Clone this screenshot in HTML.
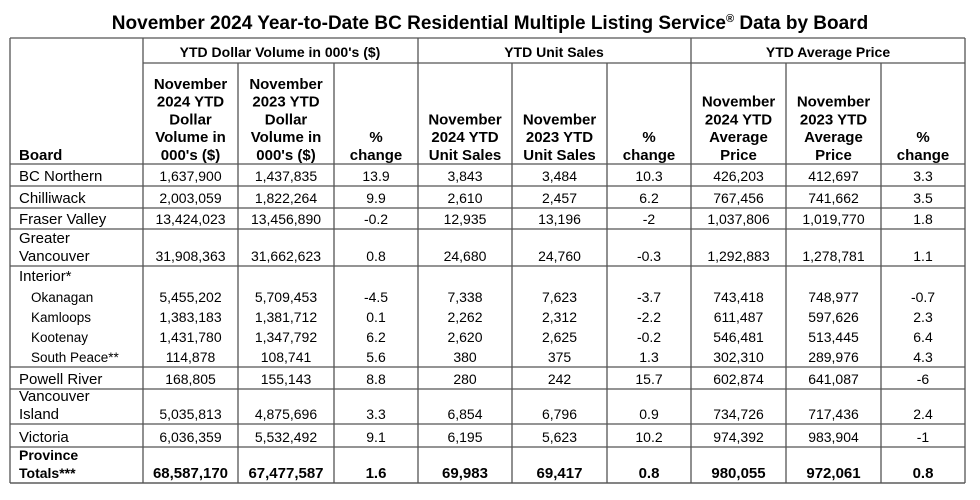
<!DOCTYPE html>
<html><head><meta charset="utf-8"><style>
body{margin:0;background:#fff;width:980px;height:500px;overflow:hidden}
svg{display:block;font-family:"Liberation Sans",Arial,sans-serif}
</style></head><body>
<svg id="t" width="980" height="500">
<text x="490" y="29" text-anchor="middle" font-weight="bold" font-size="19">November 2024 Year-to-Date BC Residential Multiple Listing Service<tspan font-size="11" dy="-7">®</tspan><tspan dy="7"> Data by Board</tspan></text>
</svg>
<script>
const boards=["BC Northern","Chilliwack","Fraser Valley","Greater|Vancouver","Interior*","Okanagan","Kamloops","Kootenay","South Peace**","Powell River","Vancouver|Island","Victoria","Province|Totals***"];
const vol2024=["1,637,900","2,003,059","13,424,023","31,908,363","","5,455,202","1,383,183","1,431,780","114,878","168,805","5,035,813","6,036,359","68,587,170"];
const vol2023=["1,437,835","1,822,264","13,456,890","31,662,623","","5,709,453","1,381,712","1,347,792","108,741","155,143","4,875,696","5,532,492","67,477,587"];
const volChg=["13.9","9.9","-0.2","0.8","","-4.5","0.1","6.2","5.6","8.8","3.3","9.1","1.6"];
const units2024=["3,843","2,610","12,935","24,680","","7,338","2,262","2,620","380","280","6,854","6,195","69,983"];
const units2023=["3,484","2,457","13,196","24,760","","7,623","2,312","2,625","375","242","6,796","5,623","69,417"];
const unitsChg=["10.3","6.2","-2","-0.3","","-3.7","-2.2","-0.2","1.3","15.7","0.9","10.2","0.8"];
const price2024=["426,203","767,456","1,037,806","1,292,883","","743,418","611,487","546,481","302,310","602,874","734,726","974,392","980,055"];
const price2023=["412,697","741,662","1,019,770","1,278,781","","748,977","597,626","513,445","289,976","641,087","717,436","983,904","972,061"];
const priceChg=["3.3","3.5","1.8","1.1","","-0.7","2.3","6.4","4.3","-6","2.4","-1","0.8"];
const cols=[10,143,238,334,418,512,607,691,786,881,965];
const rowB=[164,186,208,229,266,286,307,327,347,367,389,424,447,483];
const sub=[false,false,false,false,false,true,true,true,true,false,false,false,false];
const svg=document.getElementById('t');
const NS="http://www.w3.org/2000/svg";
function line(x1,y1,x2,y2,name){const l=document.createElementNS(NS,'line');
l.setAttribute('x1',x1);l.setAttribute('y1',y1);l.setAttribute('x2',x2);l.setAttribute('y2',y2);
l.setAttribute('stroke','#555');l.setAttribute('stroke-width','1.3');


svg.appendChild(l);}
function txt(x,y,s,size,bold,anchor,name){const t=document.createElementNS(NS,'text');
t.setAttribute('x',x);t.setAttribute('y',y);t.setAttribute('font-size',size);
if(bold)t.setAttribute('font-weight','bold');t.setAttribute('text-anchor',anchor);t.textContent=s;


svg.appendChild(t);}
line(10,38,965,38,'table-border-top');line(10,483,965,483,'table-border-bottom');
line(10,38,10,483,'table-border-left');line(965,38,965,483,'table-border-right');
line(143,63,965,63,'group-header-line');line(10,164,965,164,'header-bottom-line');
[143,418,691].forEach(x=>line(x,38,x,483,'group-divider'));
[238,334,512,607,786,881].forEach(x=>line(x,63,x,483,'column-divider'));
rowB.forEach((y,i)=>{if(i>0&&!(i>=5&&i<=8))line(10,y,965,y,'row-line');});
txt(280,57,"YTD Dollar Volume in 000's ($)",14,true,'middle','group-header-volume');
txt(554,57,"YTD Unit Sales",14,true,'middle','group-header-units');
txt(828,57,"YTD Average Price",14,true,'middle','group-header-price');
const heads=[["Board"],["November","2024 YTD","Dollar","Volume in","000's ($)"],["November","2023 YTD","Dollar","Volume in","000's ($)"],["%","change"],
["November","2024 YTD","Unit Sales"],["November","2023 YTD","Unit Sales"],["%","change"],
["November","2024 YTD","Average","Price"],["November","2023 YTD","Average","Price"],["%","change"]];
heads.forEach((h,c)=>{const n=h.length;h.forEach((s,k)=>{const y=160-(n-1-k)*17.8;
if(c==0)txt(19,y,s,15,true,'start','column-header-board');
else txt((cols[c]+cols[c+1])/2,y,s,15,true,'middle','column-header');});});
const data=[vol2024,vol2023,volChg,units2024,units2023,unitsChg,price2024,price2023,priceChg];
boards.forEach((b,r)=>{const bot=rowB[r+1];const tot=r==boards.length-1;
const parts=b.split('|');const base=bot-5;
parts.forEach((p,k)=>{const y=base-(parts.length-1-k)*18;
if(tot)txt(19,y,p,14,true,'start','board-label');
else txt(sub[r]?31:19,y,p,sub[r]?13.5:15,false,'start','board-label');});
data.forEach((arr,c)=>{if(arr[r]==='')return;
txt((cols[c+1]+cols[c+2])/2,base,arr[r],tot?15:14,tot,'middle','cell-value');});});
</script>
</body></html>
